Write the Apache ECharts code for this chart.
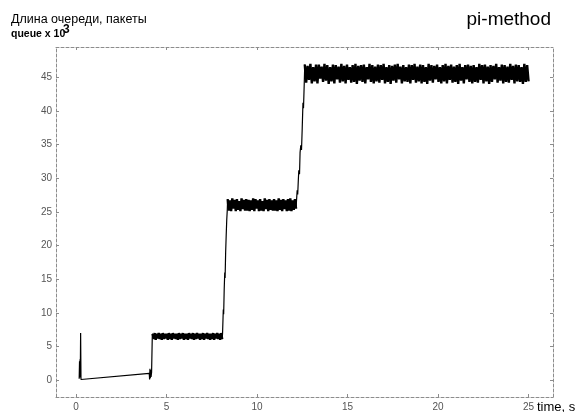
<!DOCTYPE html>
<html>
<head>
<meta charset="utf-8">
<script src="https://cdn.jsdelivr.net/npm/echarts@6/dist/echarts.min.js"></script>
<style>
  html, body { margin: 0; padding: 0; background: #fff; }
  #main { width: 577px; height: 412px; }
</style>
</head>
<body>
<div id="main"></div>
<script>
// тики осей
var xTicks = [0, 5, 10, 15, 20, 25];
var yTicks = [0, 5, 10, 15, 20, 25, 30, 35, 40, 45];

// начальный всплеск и медленный рост (t, q)
var tStart = [0.18, 0.20, 0.22, 0.23, 0.24, 0.26, 0.28, 4.05, 4.07, 4.09, 4.11, 4.13, 4.15, 4.18, 4.22];
var qStart = [0.2, 2.8, 0.6, 3.1, 0.4, 7.0, 0.1, 1.0, 0.1, 1.7, 0.3, 1.5, 0.5, 1.2, 6.8];

// полка ~6-7 (t 4.24 .. 8.08)
var band1 = [
  6.9,6.1,7.0,6.0,6.9,6.2,7.0,6.1,6.9,6.0,7.0,6.1,6.9,6.2,6.9,6.0,7.0,6.1,6.9,6.0,
  7.0,6.2,6.9,6.1,6.9,6.0,7.0,6.1,6.9,6.2,7.0,6.0,6.9,6.1,6.9,6.0,7.0,6.2,6.9,6.1,
  7.0,6.0,6.9,6.1,7.0,6.2,6.9,6.0,6.9,6.1,7.0,6.0,6.9,6.2,7.0,6.1,6.9,6.0,6.9,6.1,
  7.0,6.0,6.9,6.2,7.0,6.1,6.9,6.0,7.0,6.1
];

// подъём к 25
var tRise1 = [8.10, 8.14, 8.16, 8.19, 8.22, 8.24, 8.27, 8.30, 8.33, 8.36];
var qRise1 = [7.0, 10.5, 9.8, 13.5, 16.0, 15.2, 19.0, 21.5, 23.8, 25.3];

// полка ~25-27 (t 8.38 .. 12.16)
var band2 = [
  26.9,25.2,26.7,25.1,27.0,25.5,26.8,25.1,26.9,25.3,26.6,25.1,27.0,25.4,26.8,25.2,26.9,25.2,26.8,25.1,
  26.7,25.3,27.0,25.1,26.9,25.5,26.7,25.1,26.9,25.2,26.6,25.1,27.0,25.4,26.8,25.1,26.9,25.3,26.7,25.2,
  26.9,25.2,26.7,25.1,27.0,25.3,26.8,25.1,26.9,25.4,26.7,25.1,26.9,25.2,27.0,25.1,26.7,25.3,26.9,25.5
];

// подъём к 45
var tRise2 = [12.18, 12.22, 12.25, 12.28, 12.31, 12.35, 12.38, 12.42, 12.46, 12.50, 12.54, 12.57, 12.61];
var qRise2 = [26.5, 28.2, 27.6, 29.5, 31.2, 30.6, 33.8, 34.9, 34.2, 37.5, 41.2, 40.4, 44.0];

// полка ~44-47 (t 12.64 .. 25.0)
var band3 = [
  46.9,44.2,46.7,44.6,47.0,44.1,46.5,44.4,46.9,44.1,46.9,44.8,46.6,44.3,47.0,44.5,46.8,44.0,46.5,44.4,
  46.9,44.1,46.8,44.7,46.6,44.2,47.0,44.4,46.7,44.1,46.9,44.6,46.5,44.2,46.8,44.3,47.0,44.0,46.7,44.5,
  46.8,44.3,46.9,44.1,46.5,44.7,47.0,44.3,46.8,44.1,46.6,44.4,46.9,44.2,46.8,44.6,47.0,44.1,46.5,44.3,
  46.8,44.0,46.7,44.5,46.9,44.2,47.0,44.7,46.6,44.1,46.8,44.4,46.5,44.3,46.9,44.1,46.8,44.6,47.0,44.2,
  46.6,44.4,46.9,44.1,46.8,44.3,46.5,44.0,47.0,44.5,46.8,44.2,46.7,44.7,46.9,44.3,46.5,44.1,46.8,44.4,
  47.0,44.1,46.7,44.6,46.9,44.2,46.6,44.3,46.8,44.0,47.0,44.5,46.5,44.1,46.8,44.7,46.9,44.3,46.7,44.1,
  46.8,44.3,46.5,44.2,47.0,44.6,46.8,44.1,46.9,44.4,46.6,44.0,46.8,44.3,46.7,44.7,47.0,44.2,46.5,44.5,
  46.9,44.1,46.8,44.3,46.6,44.2,47.0,44.6,46.7,44.1,46.9,44.4,46.8,44.3,46.5,44.0,47.0,44.3,46.8,44.4
];

function pairs(ts, qs) {
  return ts.map(function (t, i) { return [t, qs[i]]; });
}
// отсчёты полки равномерно по времени
function spread(from, to, qs) {
  var step = (to - from) / (qs.length - 1);
  return qs.map(function (q, i) { return [from + i * step, q]; });
}

// тонкие участки (переходы) и плотные полки отдельно
var thinData = []
  .concat(pairs(tStart, qStart))
  .concat([[4.24, band1[0]], [null, null]])
  .concat([[8.08, band1[band1.length - 1]]])
  .concat(pairs(tRise1, qRise1))
  .concat([[8.38, band2[0]], [null, null], [12.16, band2[band2.length - 1]]])
  .concat(pairs(tRise2, qRise2))
  .concat([[12.64, band3[0]]]);

var bandData = []
  .concat(spread(4.24, 8.08, band1)).concat([[null, null]])
  .concat(spread(8.38, 12.16, band2)).concat([[null, null]])
  .concat(spread(12.64, 25.0, band3));

var FONT = 'Liberation Sans, Arial, sans-serif';
var frameLine = { show: true, onZero: false, lineStyle: { color: '#8c8c8c', width: 1, type: [3, 2] } };
var tickIn = { show: true, inside: true, length: 3, lineStyle: { color: '#8c8c8c' } };

var chart = echarts.init(document.getElementById('main'));
chart.setOption({
  animation: false,
  backgroundColor: '#fff',
  grid: { left: 56, right: 24, top: 47, bottom: 10 },
  xAxis: [{
    type: 'value', min: -1.1, max: 26.35, position: 'bottom',
    axisLine: frameLine,
    axisTick: Object.assign({ customValues: xTicks }, tickIn),
    axisLabel: { customValues: xTicks, color: '#555', fontSize: 10, fontFamily: FONT, margin: 5 },
    splitLine: { show: false }
  }, {
    type: 'value', min: -1.1, max: 26.35, position: 'top',
    axisLine: frameLine,
    axisTick: Object.assign({ customValues: xTicks }, tickIn),
    axisLabel: { show: false },
    splitLine: { show: false }
  }],
  yAxis: [{
    type: 'value', min: -2.5, max: 49.5, position: 'left',
    axisLine: frameLine,
    axisTick: Object.assign({ customValues: yTicks }, tickIn),
    axisLabel: { customValues: yTicks, color: '#555', fontSize: 10, fontFamily: FONT, margin: 4 },
    splitLine: { show: false }
  }, {
    type: 'value', min: -2.5, max: 49.5, position: 'right',
    axisLine: frameLine,
    axisTick: Object.assign({ customValues: yTicks }, tickIn),
    axisLabel: { show: false },
    splitLine: { show: false }
  }],
  series: [{
    type: 'line',
    xAxisIndex: 0, yAxisIndex: 0,
    data: thinData,
    connectNulls: false,
    symbol: 'none',
    sampling: null,
    lineStyle: { color: '#000', width: 1.2 },
    silent: true
  }, {
    type: 'line',
    xAxisIndex: 0, yAxisIndex: 0,
    data: bandData,
    connectNulls: false,
    symbol: 'none',
    sampling: null,
    lineStyle: { color: '#000', width: 2.4, join: 'bevel' },
    silent: true
  }],
  graphic: [
    { type: 'text', left: 11, top: 13, style: { text: 'Длина очереди, пакеты', font: '12.5px ' + FONT, fill: '#000' } },
    { type: 'text', left: 11, top: 29, style: { text: 'queue x 10', font: 'bold 10.5px ' + FONT, fill: '#000' } },
    { type: 'text', left: 63, top: 24, style: { text: '3', font: 'bold 12px ' + FONT, fill: '#000' } },
    { type: 'text', right: 26, top: 10, style: { text: 'pi-method', font: '19px ' + FONT, fill: '#000' } },
    { type: 'text', left: 537, top: 401, style: { text: 'time, s', font: '13px ' + FONT, fill: '#000' } }
  ]
});
</script>
</body>
</html>
